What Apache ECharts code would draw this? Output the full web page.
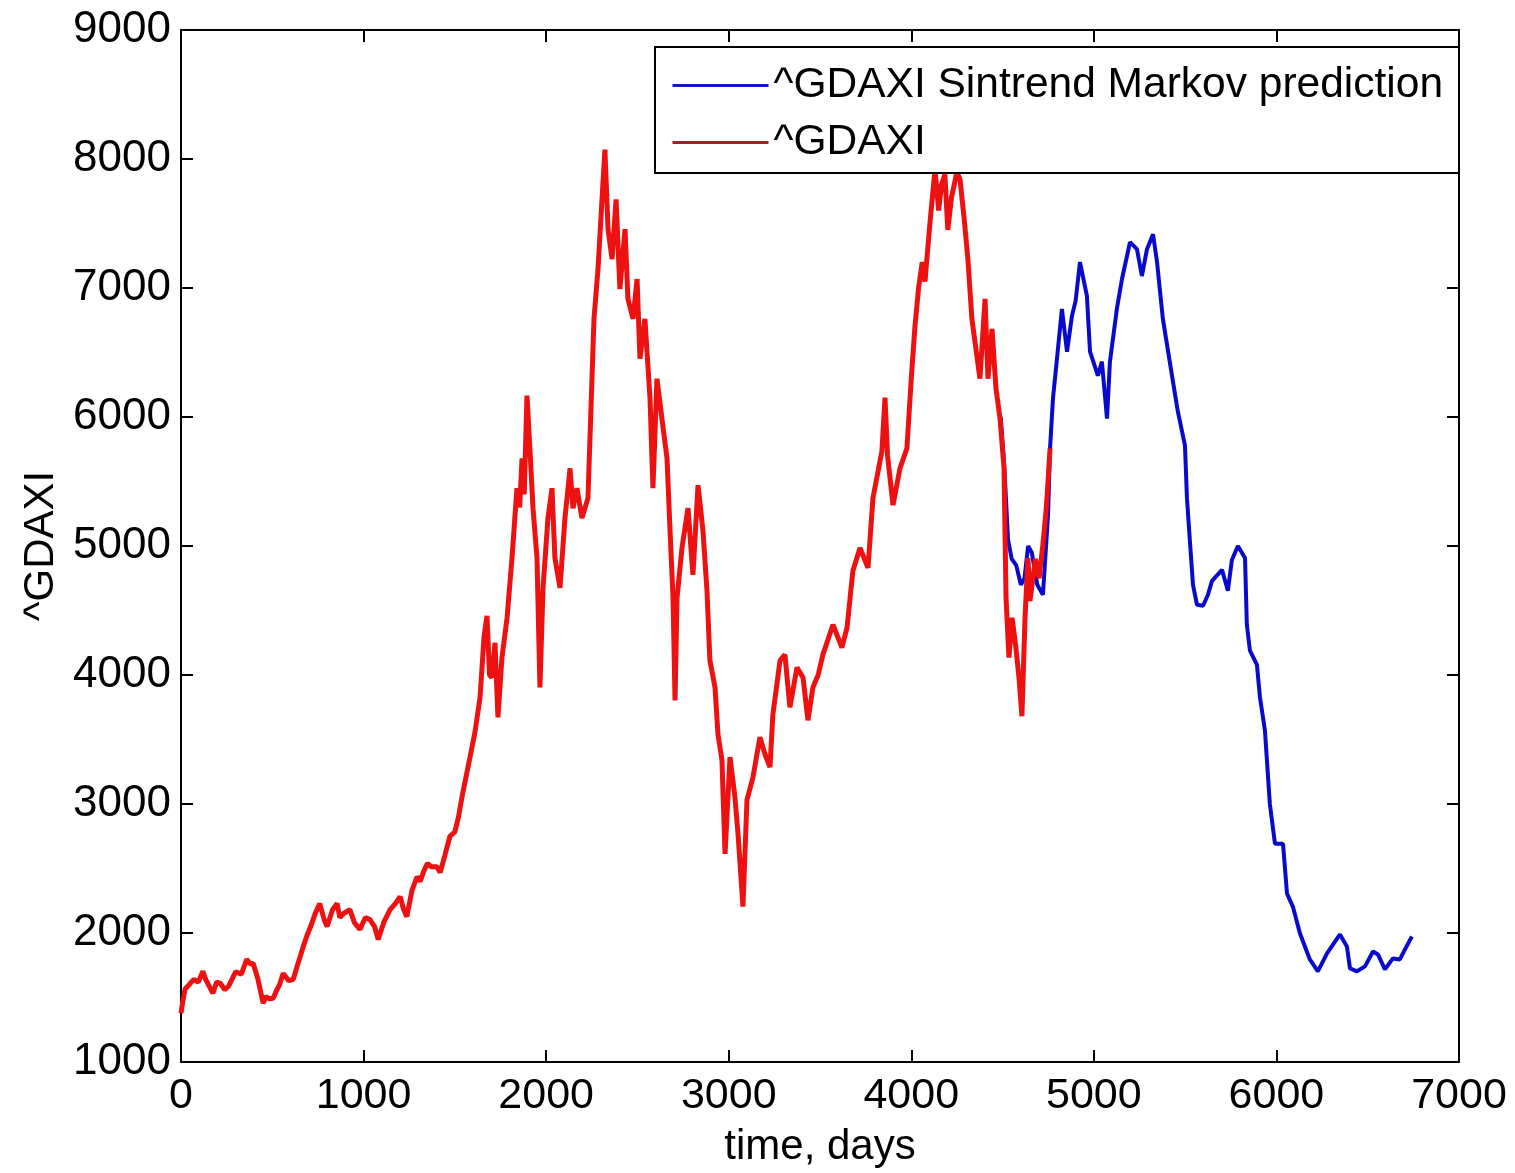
<!DOCTYPE html>
<html>
<head>
<meta charset="utf-8">
<script src="https://cdn.jsdelivr.net/npm/echarts@6/dist/echarts.min.js"></script>
<style>
  html, body { margin: 0; padding: 0; background: #fff; }
  #main { width: 1515px; height: 1173px; }
</style>
</head>
<body>
<div id="main"></div>
<script>
// observed index, days 0..4760
const redDays = [0, 10, 22, 45, 70, 95, 120, 135, 150, 175, 195, 215, 240, 260, 300, 330, 360, 380, 395, 420, 450, 465, 480, 505, 525, 540, 560, 590, 615, 640,
  670, 690, 710, 735, 760, 785, 800, 830, 855, 870, 890, 925, 950, 980, 1010, 1035, 1060, 1080, 1110, 1145, 1175, 1200, 1220,
  1237, 1265, 1293, 1310, 1330, 1350, 1370, 1400, 1420, 1445, 1473, 1500, 1520, 1539, 1583, 1610, 1638, 1660, 1676, 1690, 1703, 1720, 1736,
  1758, 1786, 1813, 1840, 1855, 1868, 1880, 1895, 1911, 1928, 1950, 1966, 1983, 2010, 2032, 2048, 2076, 2103, 2131, 2147, 2169,
  2196, 2229, 2240, 2262, 2284, 2306, 2322, 2339, 2361, 2383, 2404, 2432, 2448, 2476, 2498, 2514, 2541, 2569, 2585, 2607,
  2634, 2662, 2678, 2695, 2706, 2717, 2744, 2777, 2804, 2832, 2859, 2881, 2897, 2925, 2941, 2963, 2980, 3007, 3034, 3051,
  3078, 3100, 3133, 3171, 3200, 3226, 3242, 3281, 3308, 3335, 3374, 3407, 3434, 3461, 3490, 3516, 3571, 3620, 3648, 3680, 3719, 3763,
  3790, 3839, 3856, 3870, 3900, 3938, 3976, 4000, 4020, 4040, 4060, 4075, 4102, 4130, 4150, 4165, 4184, 4200, 4220, 4250,
  4267, 4290, 4310, 4332, 4354, 4376, 4404, 4420, 4442, 4464, 4486, 4508, 4519, 4535, 4552, 4573, 4590, 4606, 4623, 4639,
  4650, 4680, 4700, 4720, 4740, 4760];
const redValues = [1378, 1470, 1564, 1600, 1640, 1620, 1703, 1640, 1600, 1533, 1620, 1610, 1560, 1587, 1700, 1680, 1795, 1760, 1765, 1650, 1455, 1510, 1490, 1494, 1560, 1600, 1687, 1630, 1641, 1760,
  1896, 1980, 2050, 2150, 2228, 2100, 2050, 2180, 2228, 2120, 2150, 2181, 2080, 2027, 2120, 2104, 2050, 1950, 2080, 2181, 2230, 2282, 2180,
  2127, 2330, 2436, 2400, 2480, 2540, 2514, 2514, 2470, 2600, 2750, 2784, 2900, 3054, 3363, 3556, 3826, 4300, 4459, 4000, 3980, 4250, 3672,
  4135, 4444, 4907, 5448, 5300, 5680, 5400, 6166, 5757, 5293, 4907, 3903, 4676, 5216, 5448, 4907, 4676, 5216, 5602, 5293, 5448,
  5216, 5370, 5834, 6761, 7147, 7687, 8073, 7456, 7224, 7687, 6992, 7456, 6915, 6761, 7070, 6452, 6761, 6143, 5448, 6297,
  5989, 5680, 5139, 4598, 3803, 4598, 4985, 5293, 4776, 5471, 5116, 4653, 4112, 3903, 3541, 3340, 2614, 3363, 3054, 2768,
  2204, 3031, 3209, 3518, 3380, 3286, 3695, 4112, 4158, 3749, 4058, 3980, 3649, 3903, 4000, 4158, 4390, 4212, 4367, 4807, 4985, 4830,
  5371, 5734, 6150, 5700, 5317, 5602, 5757, 6300, 6700, 7000, 7200, 7050, 7500, 7919, 7600, 7800, 7880, 7450, 7700, 7900,
  7842, 7533, 7224, 6761, 6529, 6297, 6915, 6297, 6683, 6220, 5989, 5602, 4598, 4135, 4444, 4212, 3980, 3680, 4444, 4907,
  4575, 4900, 4750, 5000, 5300, 5757];

// Sintrend Markov prediction, days 4490..6742
const blueDays = [4490, 4510, 4530, 4550, 4575, 4600, 4620, 4640, 4660, 4690, 4721, 4749, 4760, 4776, 4798, 4825, 4853, 4880, 4900, 4924,
  4962, 4979, 5022, 5044, 5072, 5088, 5126, 5154, 5198, 5236, 5263, 5291, 5324, 5346, 5378, 5428, 5460, 5499, 5510, 5526,
  5543, 5565, 5598, 5625, 5647, 5702, 5734, 5756, 5789, 5828, 5838, 5855, 5893, 5910, 5937, 5964, 5992, 6036, 6058, 6090,
  6129, 6183, 6227, 6277, 6348, 6386, 6403, 6441, 6485, 6529, 6556, 6594, 6638, 6676, 6704, 6742];
const blueValues = [6000, 5600, 5050, 4900, 4850, 4700, 4750, 5000, 4950, 4700, 4622, 5239, 5757, 6143, 6452, 6838, 6506, 6784, 6900, 7201,
  6938, 6506, 6321, 6429, 5988, 6429, 6838, 7070, 7355, 7301, 7093, 7301, 7417, 7201, 6761, 6321, 6043, 5780, 5371, 5039,
  4699, 4544, 4537, 4622, 4730, 4815, 4653, 4892, 5000, 4907, 4390, 4189, 4081, 3826, 3571, 3000, 2691, 2691, 2305, 2205,
  1996, 1795, 1703, 1842, 1989, 1896, 1726, 1703, 1741, 1857, 1834, 1718, 1803, 1795, 1873, 1973];

const seriesNames = ['^GDAXI Sintrend Markov prediction', '^GDAXI'];
const xTicks = { min: 0, max: 7000, step: 1000 };
const yTicks = { min: 1000, max: 9000, step: 1000 };

const font = '"Liberation Sans", Arial, sans-serif';
const black = { color: '#000', width: 2 };

function xAx(pos, labels) {
  return {
    type: 'value', position: pos, min: xTicks.min, max: xTicks.max, interval: xTicks.step,
    axisLine: { show: true, onZero: false, lineStyle: black },
    axisTick: { show: true, inside: true, length: 12, lineStyle: black },
    axisLabel: { show: labels, fontSize: 43, color: '#000', margin: 13, fontFamily: font, formatter: v => String(v) },
    splitLine: { show: false }
  };
}
function yAx(pos, labels) {
  return {
    type: 'value', position: pos, min: yTicks.min, max: yTicks.max, interval: yTicks.step,
    axisLine: { show: true, onZero: false, lineStyle: black },
    axisTick: { show: true, inside: true, length: 12, lineStyle: black },
    axisLabel: { show: labels, fontSize: 44, color: '#000', margin: 10, fontFamily: font, formatter: v => String(v) },
    splitLine: { show: false }
  };
}

const bottomX = xAx('bottom', true);
bottomX.name = 'time, days';
bottomX.nameLocation = 'middle';
bottomX.nameGap = 64;
bottomX.nameTextStyle = { fontSize: 42, color: '#000', fontFamily: font };

const leftY = yAx('left', true);
leftY.name = '^GDAXI';
leftY.nameLocation = 'middle';
leftY.nameGap = 114;
leftY.nameTextStyle = { fontSize: 42, color: '#000', fontFamily: font };

var myChart = echarts.init(document.getElementById('main'));
var option = {
  animation: false,
  backgroundColor: '#fff',
  textStyle: { fontFamily: font },
  grid: { left: 181, right: 56, top: 30, bottom: 107, containLabel: false },
  legend: {
    orient: 'vertical', left: 655, top: 47,
    padding: [17, 16, 9, 16], itemGap: 14, itemWidth: 96, itemHeight: 20,
    backgroundColor: '#fff', borderColor: '#000', borderWidth: 2,
    itemStyle: { opacity: 0 },
    textStyle: { fontSize: 42.5, color: '#000', fontFamily: font },
    data: [
      { name: seriesNames[0], lineStyle: { color: '#1414c8', width: 3 } },
      { name: seriesNames[1], lineStyle: { color: '#962828', width: 3 } }
    ]
  },
  xAxis: [bottomX, xAx('top', false)],
  yAxis: [leftY, yAx('right', false)],
  series: [
    {
      name: seriesNames[0], type: 'line', symbol: 'none', xAxisIndex: 0, yAxisIndex: 0,
      lineStyle: { color: '#0a0acc', width: 4 }, itemStyle: { color: '#0a0acc' },
      data: blueDays.map((d, i) => [d, blueValues[i]])
    },
    {
      name: seriesNames[1], type: 'line', symbol: 'none', xAxisIndex: 0, yAxisIndex: 0,
      lineStyle: { color: '#ee1111', width: 5 }, itemStyle: { color: '#ee1111' },
      data: redDays.map((d, i) => [d, redValues[i]])
    }
  ]
};
myChart.setOption(option);
</script>
</body>
</html>
